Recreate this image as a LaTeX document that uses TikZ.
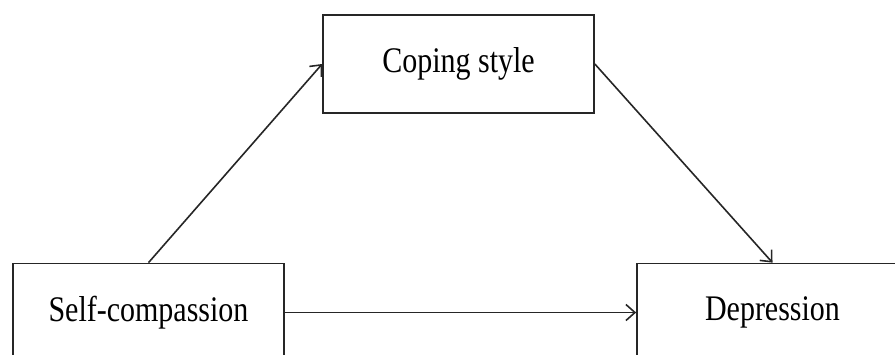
\documentclass[tikz,border=0pt]{standalone}
\usepackage{fontspec}
\setmainfont{Liberation Serif}
\usetikzlibrary{arrows.meta}
\tikzset{
  varbox/.style={draw=black!85, line width=1.7pt, rectangle, minimum width=271pt, minimum height=98pt, inner sep=0pt, font=\fontsize{30}{36}\selectfont},
  conn/.style={draw=black!85, line width=1.6pt, -{Straight Barb[length=9pt, width=16pt, line width=1.6pt]}}
}
\newcommand{\tallt}[1]{\scalebox{1}[1.2]{#1}}
\begin{document}
\begin{tikzpicture}[x=1pt, y=-1pt]
\useasboundingbox (0,0) rectangle (895,354);
\clip (0,0) rectangle (895,354);
\node[varbox] (cope) at (458.5,64) {\tallt{Coping style}};
\node[varbox] (self) at (148.5,312.5) {\tallt{Self-compassion}};
\node[varbox] (dep) at (772.5,312.5) {\tallt{Depression}};
\draw[conn] (self.north) -- (cope.west);
\draw[conn] (cope.east) -- (dep.north);
\draw[conn] (self.east) -- (dep.west);
\end{tikzpicture}
\end{document}
